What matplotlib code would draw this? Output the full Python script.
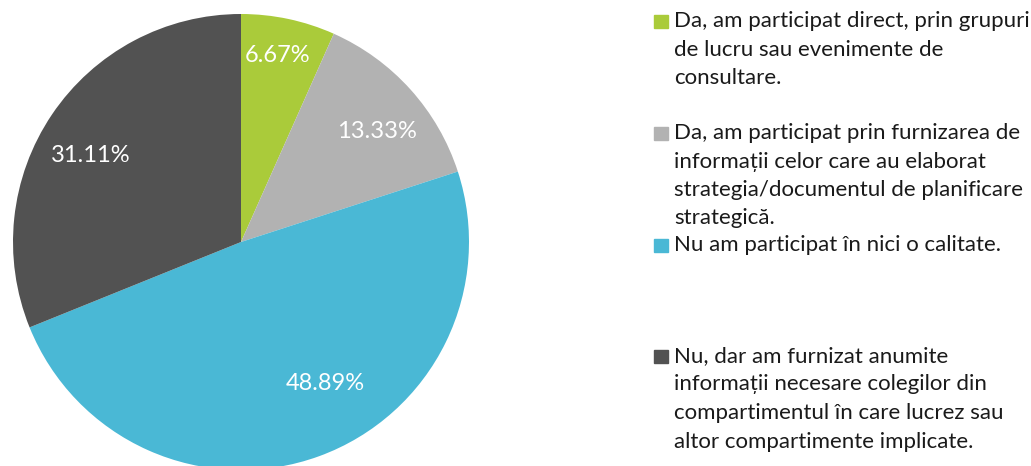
import numpy as np
import matplotlib.pyplot as plt

plt.rcParams['font.family'] = ['Lato', 'DejaVu Sans']

# date din grafic
shares = [6.67, 13.33, 48.89, 31.11]
labels = [
    ["Da, am participat direct, prin grupuri",
     "de lucru sau evenimente de",
     "consultare."],
    ["Da, am participat prin furnizarea de",
     "informații celor care au elaborat",
     "strategia/documentul de planificare",
     "strategică."],
    ["Nu am participat în nici o calitate."],
    ["Nu, dar am furnizat anumite",
     "informații necesare colegilor din",
     "compartimentul în care lucrez sau",
     "altor compartimente implicate."],
]
colors = ['#aacb3a', '#b2b2b2', '#4ab8d5', '#525252']

W, H = 1031, 466
fig = plt.figure(figsize=(W / 100, H / 100), dpi=100)

# pie: centru (241, 242) px, raza 228 px
cx, cy, r = 241, 242, 228
ax = fig.add_axes([(cx - r) / W, (H - cy - r) / H, 2 * r / W, 2 * r / H])
wedges, texts, autotexts = ax.pie(
    shares, colors=colors, startangle=90, counterclock=False,
    autopct=lambda p: f"{p:.2f}%", pctdistance=0.8,
    textprops=dict(color='white', fontsize=17),
    wedgeprops=dict(linewidth=0))
ax.set_xlim(-1, 1)
ax.set_ylim(-1, 1)
ax.set_aspect('equal')
ax.axis('off')

# pozitia etichetelor (ca in Excel, "best fit")
label_xy = [(278, 55), (377, 132), (325, 383), (91, 155)]
for t, (px, py) in zip(autotexts, label_xy):
    t.set_position(((px - cx) / r, (cy - py) / r))
    t.set_ha('center')
    t.set_va('center')

# legenda manuala
entry_y = [21, 133, 245, 356]
line_h = 28.5
for col, lines, y0 in zip(colors, labels, entry_y):
    fig.patches.append(plt.Rectangle((654 / W, 1 - (y0 + 7) / H), 14 / W, 13 / H,
                                     transform=fig.transFigure, color=col))
    for i, ln in enumerate(lines):
        fig.text(674 / W, 1 - (y0 + i * line_h) / H, ln, fontsize=16,
                 color='#1a1a1a', ha='left', va='center')

fig.savefig('out.png', dpi=100)
